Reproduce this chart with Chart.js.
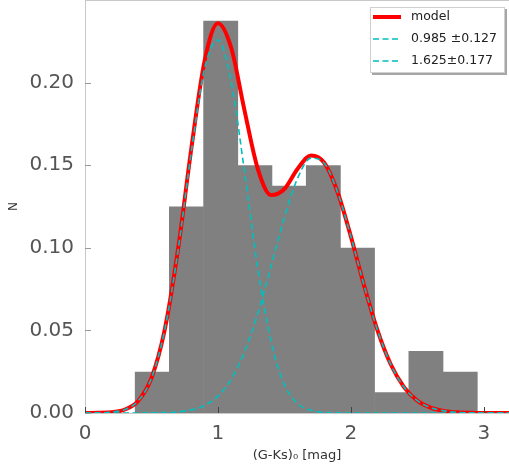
<!DOCTYPE html>
<html>
<head>
<meta charset="utf-8">
<script src="https://cdn.jsdelivr.net/npm/chart.js@4.4.0/dist/chart.umd.min.js"></script>
<style>
  html, body { margin: 0; padding: 0; background: #fff; }
  #wrap { width: 509px; height: 472px; position: relative; }
</style>
</head>
<body>
<div id="wrap"><canvas id="chart"></canvas></div>
<script>
// histogram: fraction of stars per (G-Ks)0 bin
const binCenters = [0.506, 0.763, 1.021, 1.278, 1.536, 1.793, 2.050, 2.308, 2.565, 2.823];
const binHeights = [0.025, 0.125, 0.2375, 0.15, 0.1375, 0.15, 0.1, 0.0125, 0.0375, 0.025];

// fitted curves, every 0.1 mag
const curveX = [0.0, 0.1, 0.2, 0.3, 0.4, 0.5, 0.6, 0.7, 0.8, 0.9, 1.0, 1.1, 1.2, 1.3, 1.4, 1.5, 1.6,
                1.7, 1.8, 1.9, 2.0, 2.1, 2.2, 2.3, 2.4, 2.5, 2.6, 2.7, 2.8, 2.9, 3.0, 3.1, 3.2];
const modelY = [0, 0.0001, 0.0005, 0.0021, 0.0073, 0.0212, 0.0505, 0.0992, 0.1601, 0.2132, 0.2360,
                0.2211, 0.1832, 0.1478, 0.1319, 0.1356, 0.1479, 0.1559, 0.1515, 0.1338, 0.1069,
                0.0771, 0.0502, 0.0295, 0.0157, 0.0075, 0.0033, 0.0013, 0.0004, 0.0001, 0, 0, 0];
const gauss1Y = [0, 0.0001, 0.0005, 0.0021, 0.0073, 0.0211, 0.0503, 0.0985, 0.1582, 0.2086, 0.2258,
                 0.2006, 0.1462, 0.0875, 0.0430, 0.0173, 0.0057, 0.0016, 0.0003, 0.0001, 0,
                 0, 0, 0, 0, 0, 0, 0, 0, 0, 0, 0, 0];
const gauss2Y = [0, 0, 0, 0, 0, 0.0001, 0.0002, 0.0007, 0.0019, 0.0046, 0.0102,
                 0.0205, 0.0370, 0.0603, 0.0889, 0.1183, 0.1422, 0.1543, 0.1512, 0.1337, 0.1069,
                 0.0771, 0.0502, 0.0295, 0.0157, 0.0075, 0.0033, 0.0013, 0.0004, 0.0001, 0, 0, 0];

const seriesNames = ['model', '0.985 ±0.127', '1.625±0.177'];
const xTitle = '(G-Ks)\u2080 [mag]';
const yTitle = 'N';

Chart.defaults.font.family = "'DejaVu Sans', sans-serif";

function pts(ys) {
    return curveX.map(function (x, i) { return { x: x, y: ys[i] }; });
}

const cyan = '#00bfbf';

// inward ticks, top spine and boxed legend like matplotlib
const decor = {
    id: 'decor',
    afterDatasetsDraw(chart) {
        const ctx = chart.ctx;
        const a = chart.chartArea;
        const sx = chart.scales.x, sy = chart.scales.y;
        ctx.save();
        ctx.lineWidth = 1;
        ctx.strokeStyle = '#444';
        sx.ticks.forEach(function (t) {
            const px = Math.round(sx.getPixelForValue(t.value)) + 0.5;
            ctx.beginPath(); ctx.moveTo(px, a.bottom); ctx.lineTo(px, a.bottom - 6); ctx.stroke();
        });
        ctx.strokeStyle = '#999';
        sy.ticks.forEach(function (t) {
            const py = Math.round(sy.getPixelForValue(t.value)) + 0.5;
            ctx.beginPath(); ctx.moveTo(a.left, py); ctx.lineTo(a.left + 6, py); ctx.stroke();
        });
        ctx.strokeStyle = '#c8c8c8';
        ctx.beginPath(); ctx.moveTo(a.left, a.top + 0.5); ctx.lineTo(a.right, a.top + 0.5); ctx.stroke();
        ctx.restore();
    },
    afterDraw(chart) {
        const ctx = chart.ctx;
        const bx = 370, by = 7, bw = 135, bh = 66;
        ctx.save();
        ctx.fillStyle = 'rgba(0,0,0,0.35)';
        ctx.fillRect(bx + 2, by + 2, bw, bh);
        ctx.fillStyle = '#fff';
        ctx.fillRect(bx, by, bw, bh);
        ctx.strokeStyle = '#d0d0d0';
        ctx.lineWidth = 1;
        ctx.strokeRect(bx + 0.5, by + 0.5, bw - 1, bh - 1);
        const ds = chart.data.datasets;
        ctx.font = "12.5px 'DejaVu Sans'";
        ctx.textBaseline = 'middle';
        for (let i = 0; i < 3; i++) {
            const d = ds[i + 1];
            const yy = 17 + i * 22;
            ctx.strokeStyle = d.borderColor;
            ctx.lineWidth = d.borderWidth;
            ctx.setLineDash(d.borderDash || []);
            ctx.beginPath(); ctx.moveTo(373, yy); ctx.lineTo(401, yy); ctx.stroke();
            ctx.setLineDash([]);
            ctx.fillStyle = '#222';
            ctx.fillText(seriesNames[i], 411, yy);
        }
        ctx.restore();
    }
};

const lineBase = {
    type: 'line',
    pointRadius: 0,
    cubicInterpolationMode: 'monotone',
    fill: false,
};

const ctx = document.getElementById('chart');
new Chart(ctx, {
    type: 'bar',
    data: {
        datasets: [
            {
                type: 'bar',
                label: 'hist',
                data: binCenters.map(function (c, i) { return { x: c, y: binHeights[i] }; }),
                backgroundColor: '#808080',
                borderWidth: 0,
                barPercentage: 1.02,
                categoryPercentage: 1,
                order: 3,
            },
            Object.assign({}, lineBase, {
                label: seriesNames[0],
                data: pts(modelY),
                borderColor: '#ff0000',
                borderWidth: 4,
                order: 2,
            }),
            Object.assign({}, lineBase, {
                label: seriesNames[1],
                data: pts(gauss1Y),
                borderColor: cyan,
                borderWidth: 1.6,
                borderDash: [6, 3.5],
                order: 1,
            }),
            Object.assign({}, lineBase, {
                label: seriesNames[2],
                data: pts(gauss2Y),
                borderColor: cyan,
                borderWidth: 1.6,
                borderDash: [6, 3.5],
                order: 1,
            }),
        ],
    },
    options: {
        responsive: true,
        maintainAspectRatio: false,
        animation: false,
        layout: { padding: 0 },
        plugins: { legend: { display: false }, tooltip: { enabled: false } },
        scales: {
            x: {
                type: 'linear',
                min: 0,
                max: 3.19,
                offset: false,
                grid: { display: false, offset: false, drawTicks: false },
                border: { display: true, color: '#c8c8c8' },
                ticks: {
                    stepSize: 1,
                    includeBounds: false,
                    padding: 9,
                    color: '#555',
                    font: { size: 20 },
                    maxRotation: 0,
                },
                title: {
                    display: true,
                    text: xTitle,
                    color: '#333',
                    font: { size: 13 },
                    padding: { top: 0, bottom: 9 },
                },
                afterFit: function (s) {
                    s.height = 59;
                    s.paddingLeft = 0; s.paddingRight = 0;
                },
            },
            y: {
                min: 0,
                max: 0.25,
                grid: { display: false, drawTicks: false },
                border: { display: true, color: '#c8c8c8' },
                ticks: {
                    stepSize: 0.05,
                    includeBounds: false,
                    padding: 11,
                    color: '#555',
                    font: { size: 20 },
                    callback: function (v) { return v.toFixed(2); },
                },
                afterBuildTicks: function (s) {
                    s.ticks = s.ticks.filter(function (t) { return t.value < 0.24; });
                },
                title: {
                    display: true,
                    text: yTitle,
                    color: '#333',
                    font: { size: 12 },
                    padding: { top: 7, bottom: 0 },
                },
                afterFit: function (s) {
                    s.width = 85;
                    s.paddingTop = 0; s.paddingBottom = 0;
                },
            },
        },
    },
    plugins: [decor],
});
</script>
</body>
</html>
